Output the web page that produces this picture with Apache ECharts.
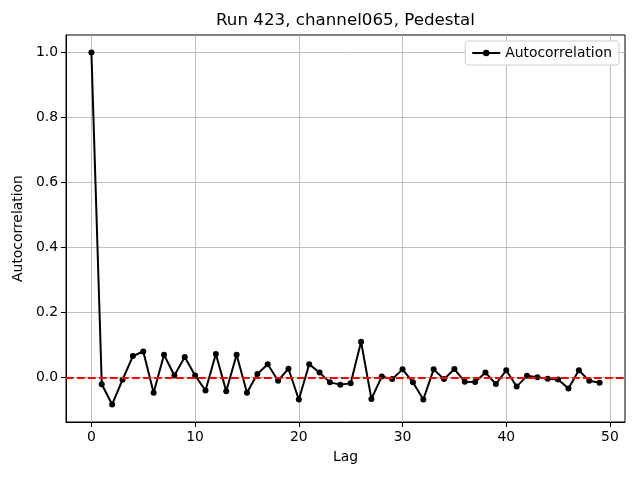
<!DOCTYPE html>
<html><head><meta charset="utf-8">
<script src="https://cdn.jsdelivr.net/npm/echarts@6/dist/echarts.min.js"></script>
<style>html,body{margin:0;padding:0;background:#fff}#c{width:640px;height:480px}</style>
</head><body><div id="c"></div>
<script>
const lags = Array.from({length: 50}, (_, i) => i);
const acf = [1.0, -0.021, -0.083, -0.007, 0.066, 0.08, -0.047, 0.07, 0.006, 0.063,
  0.006, -0.04, 0.072, -0.042, 0.07, -0.047, 0.011, 0.041, -0.01, 0.027,
  -0.068, 0.041, 0.015, -0.015, -0.022, -0.018, 0.11, -0.066, 0.003, -0.005,
  0.025, -0.015, -0.068, 0.025, -0.005, 0.026, -0.013, -0.014, 0.015, -0.02,
  0.022, -0.028, 0.005, 0.001, -0.004, -0.006, -0.034, 0.022, -0.01, -0.016];
const xTicks = [0, 10, 20, 30, 40, 50];
const yTicks = [0.0, 0.2, 0.4, 0.6, 0.8, 1.0];
const titleText = 'Run 423, channel065, Pedestal';
const seriesName = 'Autocorrelation';

const font = 'DejaVu Sans';
const chart = echarts.init(document.getElementById('c'), null, {renderer: 'canvas'});
chart.setOption({
  animation: false,
  graphic: [{type: 'text', x: 345.5, y: 21, silent: true,
    style: {text: titleText, fontFamily: font, fontSize: 16.7, fill: '#000',
      textAlign: 'center', textVerticalAlign: 'middle'}}],
  legend: {data: [seriesName], right: 21, top: 41, orient: 'vertical',
    backgroundColor: '#fff', borderColor: '#ccc', borderWidth: 1, borderRadius: 3,
    padding: [5, 7, 5, 6], itemWidth: 28, itemHeight: 8, itemGap: 4,
    textStyle: {fontFamily: font, fontSize: 13.9, color: '#000'}},
  grid: {left: 66, right: 15, top: 35, bottom: 58, show: true, borderColor: '#000', borderWidth: 1},
  xAxis: {type: 'value', min: -2.45, max: 51.45,
    name: 'Lag', nameLocation: 'middle', nameGap: 28,
    nameTextStyle: {fontFamily: font, fontSize: 13.9, color: '#000'},
    axisLine: {show: true, onZero: false, lineStyle: {color: '#000'}},
    axisTick: {show: true, length: 5, customValues: xTicks, lineStyle: {color: '#000'}},
    axisLabel: {customValues: xTicks, margin: 8, fontFamily: font, fontSize: 13.9, color: '#000'},
    splitLine: {show: true, lineStyle: {color: '#b0b0b0', width: 0.8}}},
  yAxis: {type: 'value', min: -0.137, max: 1.054,
    name: 'Autocorrelation', nameLocation: 'middle', nameGap: 36,
    nameTextStyle: {fontFamily: font, fontSize: 13.9, color: '#000'},
    axisLine: {show: true, onZero: false, lineStyle: {color: '#000'}},
    axisTick: {show: true, length: 5, customValues: yTicks, lineStyle: {color: '#000'}},
    axisLabel: {customValues: yTicks, margin: 8, fontFamily: font, fontSize: 13.9, color: '#000',
      formatter: v => v.toFixed(1)},
    splitLine: {show: true, lineStyle: {color: '#b0b0b0', width: 0.8}}},
  series: [{
    name: seriesName, type: 'line',
    data: lags.map((l, i) => [l, acf[i]]),
    symbol: 'circle', symbolSize: 6,
    lineStyle: {color: '#000', width: 2}, itemStyle: {color: '#000'},
    markLine: {silent: true, symbol: 'none', label: {show: false},
      lineStyle: {color: '#ff0000', type: [7.7, 3.3], width: 2},
      data: [{yAxis: 0}]}
  }]
});
</script></body></html>
